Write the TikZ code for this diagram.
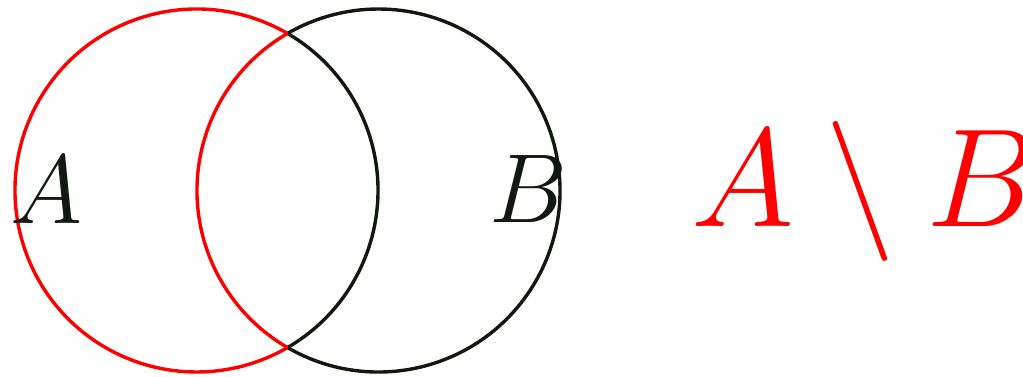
\RequirePackage{fix-cm}
\documentclass[tikz,border=0pt]{standalone}
\definecolor{inkc}{HTML}{101810}
\begin{document}
\begin{tikzpicture}[x=1pt,y=1pt,
  edge/.style={line width=3.4pt},
  lbl/.style={inner sep=0pt,anchor=base,text=inkc,font=\fontsize{98}{100}\selectfont},
  big/.style={inner sep=0pt,anchor=base west,text=red,font=\fontsize{140}{145}\selectfont}]
\useasboundingbox (0,0) rectangle (1023,376);
\coordinate (ca) at (196.5,185.5);
\coordinate (cb) at (378.5,185.5);
% black parts
\draw[edge,inkc] (ca) ++(-60:181.5) arc[start angle=-60,end angle=60,radius=181.5];
\draw[edge,inkc] (cb) ++(-120:181.5) arc[start angle=-120,end angle=120,radius=181.5];
% red boundary of A \ B
\draw[edge,red] (ca) ++(60:181.5) arc[start angle=60,end angle=300,radius=181.5];
\draw[edge,red] (cb) ++(120:181.5) arc[start angle=120,end angle=240,radius=181.5];
\node[lbl] (la) at (46,153) {$A$};
\node[lbl] (lb) at (528,154) {$B$};
\node[big] (expr) at (691,150) {$A\setminus B$};
\end{tikzpicture}
\end{document}
